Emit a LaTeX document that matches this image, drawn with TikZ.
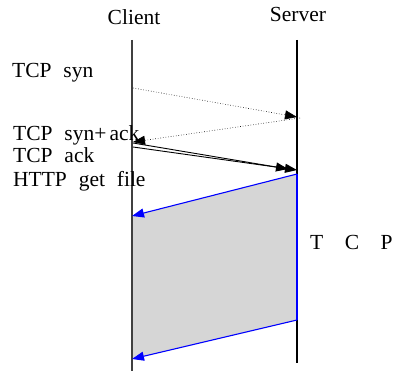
\documentclass[tikz,border=0pt]{standalone}
\usepackage{fontspec}
\setmainfont{Liberation Serif}
\usetikzlibrary{arrows.meta}
\definecolor{fillgray}{HTML}{D6D6D6}
\definecolor{lifegray}{HTML}{404040}
\begin{document}
\begin{tikzpicture}[x=1pt,y=-1pt,
  lbl/.style={font=\fontsize{21.5}{24}\selectfont, inner sep=0pt, anchor=base west},
  tip/.style={-{Triangle[length=12pt,width=9pt]}},
  msg/.style={tip, dotted, line width=0.6pt},
  blk/.style={tip, line width=0.9pt},
  blu/.style={tip, draw=blue, line width=1.1pt}]
\useasboundingbox (0,0) rectangle (396,371);
% lifelines
\coordinate (c0) at (132,40);
\coordinate (c1) at (132,371);
\coordinate (s0) at (297,40);
\coordinate (s1) at (297,363);
% data region
\coordinate (d1) at (132,216);
\coordinate (d2) at (297,174);
\coordinate (d3) at (297,320);
\coordinate (d4) at (132,359);
\fill[fillgray] (d1) -- (d2) -- (d3) -- (d4) -- cycle;
\draw[lifegray, line width=2pt] (c0) -- (c1);
\draw[black, line width=1.3pt] (s0) -- (s1);
% labels
\node[font=\fontsize{21.5}{24}\selectfont, inner sep=0pt, anchor=base] (client) at (134,25) {Client};
\node[font=\fontsize{21.5}{24}\selectfont, inner sep=0pt, anchor=base] (server) at (298,22) {Server};
\node[lbl] (syn) at (12,78) {TCP\hspace{0.55em}syn};
\node[lbl] (synack) at (13,141) {TCP\hspace{0.55em}syn+\hspace{0.15em}ack};
\node[lbl] (ack) at (13,163) {TCP\hspace{0.55em}ack};
\node[lbl] (http) at (13,187) {HTTP\hspace{0.55em}get\hspace{0.55em}file};
\node[lbl] (tcp) at (310,250) {T\hspace{1.0em}C\hspace{1.0em}P};
% messages
\coordinate (a1) at (133,88);
\coordinate (a2) at (297,117);
\draw[msg] (a1) -- (a2);
\coordinate (b1) at (300,118);
\coordinate (b2) at (133,142);
\draw[msg] (b1) -- (b2);
\coordinate (e1) at (133,143);
\coordinate (e2) at (288,169);
\draw[blk] (e1) -- (e2);
\coordinate (f1) at (133,147);
\coordinate (f2) at (297,170);
\draw[blk] (f1) -- (f2);
% data
\draw[blu] (d2) -- (d1);
\draw[draw=blue, line width=1.1pt] (d2) -- (d3);
\draw[blu] (d3) -- (d4);
\end{tikzpicture}
\end{document}
